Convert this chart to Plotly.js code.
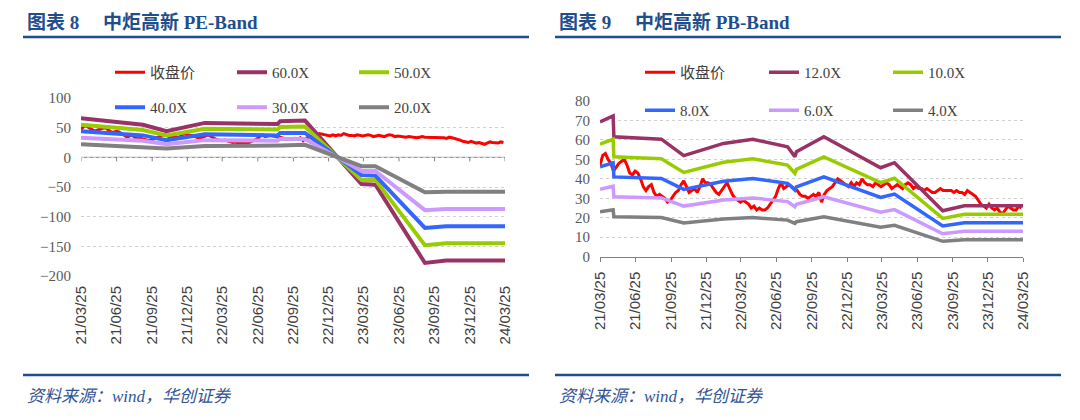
<!DOCTYPE html>
<html>
<head>
<meta charset="utf-8">
<script src="https://cdn.plot.ly/plotly-3.0.1.min.js"></script>
<style>
  html, body { margin: 0; padding: 0; background: #fff; }
  #chart { width: 1080px; height: 420px; }
</style>
</head>
<body>
<div id="chart"></div>
<script>
// quarterly ticks shared by both charts
const tickDates = ['2021-03-25','2021-06-25','2021-09-25','2021-12-25','2022-03-25','2022-06-25',
  '2022-09-25','2022-12-25','2023-03-25','2023-06-25','2023-09-25','2023-12-25','2024-03-25'];
const tickLabels = ['21/03/25','21/06/25','21/09/25','21/12/25','22/03/25','22/06/25',
  '22/09/25','22/12/25','23/03/25','23/06/25','23/09/25','23/12/25','24/03/25'];

// closing price, weekly (from 2021-03-25)
const closePrice = [
  47,52,53,50,48, 44,46,48,49,50, 47,43,42,44,43, 40,36,34,36,37,
  33,31,32,31,30, 28,29,31,33,34, 37,39,36,33,34, 35,33,36,40,38,
  38,37,35,33,32, 34,36,38,35,32, 30,29,28,29,28, 27,25,26,24,25,
  24,24,25,27,29, 31,35,38,35,36, 37,36,35,34,32, 31,31,30,31,32,
  31,33,28,32,34, 35,36,38,40,39, 38,37,36,38,36, 38,37,40,38,37,
  37,36,38,37,36, 37,38,37,35,36, 37,36,35,37,38, 37,35,36,35,35,
  34,35,34,33,33, 34,35,34,34,34, 34,33,34,33,33, 32,34,33,32,31,
  29,27,26,25,27, 25,24,25,23,22, 24,26,25,24,24, 26,25
];
const priceDates = closePrice.map((_, i) =>
  new Date(Date.UTC(2021, 2, 25) + i * 7 * 86400000).toISOString().slice(0, 10));

// PE band break points
const peDates = ['2021-03-25','2021-09-01','2021-11-01','2022-02-08','2022-08-15','2022-08-22',
  '2022-10-25','2023-03-20','2023-04-25','2023-08-31','2023-10-25','2024-03-25'];
const pe60 = [66, 55, 44, 58, 56, 61, 62, -45, -46, -178, -174, -174];
const pe50 = [55, 46, 37, 48, 47, 51, 52, -38, -38, -148, -145, -145];
const pe40 = [44, 37, 29, 39, 37, 41, 41, -30, -31, -119, -116, -116];
const pe30 = [33, 28, 22, 29, 28, 31, 31, -23, -23, -89, -87, -87];
const pe20 = [22, 18, 15, 19, 19, 20, 21, -15, -15, -59, -58, -58];

// PB band break points
const pbDates = ['2021-03-25','2021-04-28','2021-04-30','2021-08-31','2021-10-28','2022-02-08',
  '2022-04-25','2022-07-24','2022-08-12','2022-08-16','2022-10-26','2023-03-22','2023-04-27',
  '2023-08-30','2023-10-25','2024-03-25'];
const pb12 = [69.3, 72.3, 61.6, 60.4, 51.9, 58.2, 60.3, 56.5, 51.4, 53.9, 61.6, 45.7, 48.3, 23.6, 26.2, 26.2];
const pb10 = [57.8, 60.3, 51.3, 50.3, 43.3, 48.5, 50.3, 47.1, 42.8, 44.9, 51.3, 38.1, 40.3, 19.7, 21.8, 21.8];
const pb8  = [46.2, 48.2, 41.0, 40.2, 34.6, 38.8, 40.2, 37.7, 34.2, 35.9, 41.0, 30.5, 32.2, 15.8, 17.4, 17.4];
const pb6  = [34.7, 36.2, 30.8, 30.2, 26.0, 29.1, 30.2, 28.3, 25.7, 26.9, 30.8, 22.9, 24.2, 11.8, 13.1, 13.1];
const pb4  = [23.1, 24.1, 20.5, 20.1, 17.3, 19.4, 20.1, 18.8, 17.1, 18.0, 20.5, 15.2, 16.1, 7.9, 8.7, 8.7];

const W = 1080, H = 420;
const px = v => v / W;
const py = v => 1 - v / H;

const RED = '#FF0000', MAROON = '#993366', GREEN = '#99CC00', BLUE = '#3366FF', LILAC = '#CC99FF', GREY = '#808080';
const serif = '"Liberation Serif", "Noto Sans CJK SC", serif';
const navy = '#1F4E8C';

function line(x, y, name, color, width, xa, ya, legend) {
  return { x: x, y: y, name: name, type: 'scatter', mode: 'lines',
    line: { color: color, width: width }, xaxis: xa, yaxis: ya, legend: legend, hoverinfo: 'skip' };
}

const traces = [
  line(priceDates, closePrice, '收盘价', RED, 3, 'x', 'y', 'legend'),
  line(peDates, pe60, '60.0X', MAROON, 4, 'x', 'y', 'legend'),
  line(peDates, pe50, '50.0X', GREEN, 4, 'x', 'y', 'legend'),
  line(peDates, pe40, '40.0X', BLUE, 4, 'x', 'y', 'legend2'),
  line(peDates, pe30, '30.0X', LILAC, 4, 'x', 'y', 'legend2'),
  line(peDates, pe20, '20.0X', GREY, 4, 'x', 'y', 'legend2'),

  line(priceDates, closePrice, '收盘价', RED, 3, 'x2', 'y2', 'legend3'),
  line(pbDates, pb12, '12.0X', MAROON, 3.5, 'x2', 'y2', 'legend3'),
  line(pbDates, pb10, '10.0X', GREEN, 3.5, 'x2', 'y2', 'legend3'),
  line(pbDates, pb8, '8.0X', BLUE, 3.5, 'x2', 'y2', 'legend4'),
  line(pbDates, pb6, '6.0X', LILAC, 3.5, 'x2', 'y2', 'legend4'),
  line(pbDates, pb4, '4.0X', GREY, 3.5, 'x2', 'y2', 'legend4')
];

const xTickFont = { family: '"Liberation Sans", Arial, sans-serif', size: 15, color: '#404040' };
const yTickFont = { family: serif, size: 15, color: '#595959' };
const legendFont = { family: serif, size: 15, color: '#404040' };

function legendAt(x, y, w) {
  return { x: px(x), y: py(y), xanchor: 'left', yanchor: 'top', orientation: 'h',
    entrywidth: w, entrywidthmode: 'pixels', font: legendFont, bgcolor: 'rgba(0,0,0,0)',
    traceorder: 'normal', itemclick: false, itemdoubleclick: false };
}

// left chart: horizontal axis line sits at y = 0 with its tick marks
const zeroAxis = [{ type: 'line', xref: 'x', yref: 'y', x0: tickDates[0], x1: tickDates[12], y0: 0, y1: 0,
  line: { color: GREY, width: 1 }, layer: 'below' }];
tickDates.forEach(d => zeroAxis.push({ type: 'line', xref: 'x', yref: 'y', ysizemode: 'pixel', yanchor: 0,
  x0: d, x1: d, y0: 0, y1: -4, line: { color: GREY, width: 1 }, layer: 'below' }));

const layout = {
  width: W, height: H,
  margin: { l: 0, r: 0, t: 0, b: 0 },
  paper_bgcolor: '#fff', plot_bgcolor: 'rgba(0,0,0,0)',
  hovermode: false,
  xaxis: {
    domain: [px(81), px(505)], anchor: 'y', type: 'date',
    range: [tickDates[0], tickDates[12]],
    tickvals: tickDates, ticktext: tickLabels, tickangle: -90,
    showgrid: false, showline: false, zeroline: false, ticks: '',
    ticklabelstandoff: 6, tickfont: xTickFont, fixedrange: true
  },
  yaxis: {
    domain: [py(276), py(98)], anchor: 'x', range: [-200, 100], dtick: 50, tick0: 0,
    showgrid: true, gridcolor: '#D0D0D0', griddash: 'dot', zeroline: false,
    showline: false, ticks: '', ticklabelstandoff: 9, tickfont: yTickFont, fixedrange: true
  },
  xaxis2: {
    domain: [px(600), px(1023)], anchor: 'y2', type: 'date',
    range: [tickDates[0], tickDates[12]],
    tickvals: tickDates, ticktext: tickLabels, tickangle: -90,
    showgrid: false, showline: true, linecolor: GREY, linewidth: 1,
    ticks: 'outside', ticklen: 4, tickcolor: GREY, zeroline: false,
    ticklabelstandoff: 4, tickfont: xTickFont, fixedrange: true
  },
  yaxis2: {
    domain: [py(256.7), py(101)], anchor: 'x2', range: [0, 80], dtick: 10, tick0: 0,
    showgrid: true, gridcolor: '#D0D0D0', griddash: 'dot', zeroline: false,
    showline: false, ticks: '', ticklabelstandoff: 9, tickfont: yTickFont, fixedrange: true
  },
  legend: legendAt(110, 56, 77),
  legend2: legendAt(110, 91, 77),
  legend3: legendAt(640, 56, 79),
  legend4: legendAt(640, 94, 79),
  shapes: zeroAxis.concat([
    { type: 'line', xref: 'paper', yref: 'paper', x0: px(23), x1: px(529), y0: py(37), y1: py(37), line: { color: navy, width: 2.5 } },
    { type: 'line', xref: 'paper', yref: 'paper', x0: px(555), x1: px(1061), y0: py(37), y1: py(37), line: { color: navy, width: 2.5 } },
    { type: 'line', xref: 'paper', yref: 'paper', x0: px(23), x1: px(529), y0: py(375), y1: py(375), line: { color: navy, width: 2.5 } },
    { type: 'line', xref: 'paper', yref: 'paper', x0: px(555), x1: px(1061), y0: py(375), y1: py(375), line: { color: navy, width: 2.5 } }
  ]),
  annotations: [
    { xref: 'paper', yref: 'paper', x: px(25), y: py(22), xanchor: 'left', yanchor: 'middle', showarrow: false,
      text: '<b>图表\u00a08\u00a0\u00a0\u00a0\u00a0\u00a0中炬高新 PE-Band</b>', font: { family: serif, size: 19, color: navy } },
    { xref: 'paper', yref: 'paper', x: px(557), y: py(22), xanchor: 'left', yanchor: 'middle', showarrow: false,
      text: '<b>图表\u00a09\u00a0\u00a0\u00a0\u00a0\u00a0中炬高新 PB-Band</b>', font: { family: serif, size: 19, color: navy } },
    { xref: 'paper', yref: 'paper', x: px(25), y: py(396), xanchor: 'left', yanchor: 'middle', showarrow: false,
      text: '<i>资料来源：wind，华创证券</i>', font: { family: serif, size: 17, color: '#2F5496' } },
    { xref: 'paper', yref: 'paper', x: px(557), y: py(396), xanchor: 'left', yanchor: 'middle', showarrow: false,
      text: '<i>资料来源：wind，华创证券</i>', font: { family: serif, size: 17, color: '#2F5496' } }
  ]
};

Plotly.newPlot('chart', traces, layout, { staticPlot: true, displayModeBar: false });
</script>
</body>
</html>
